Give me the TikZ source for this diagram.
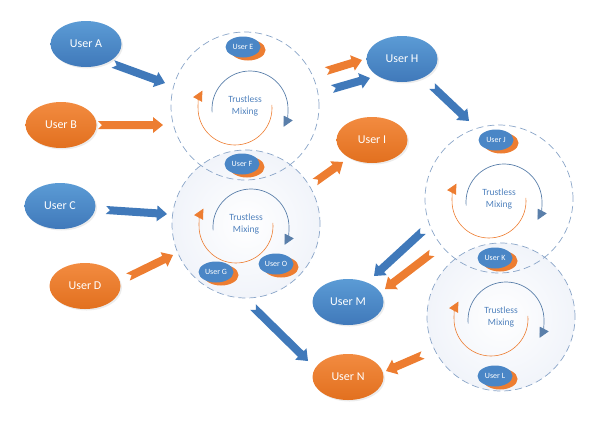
\documentclass[tikz,border=0pt]{standalone}
\usepackage{fontspec}
\setmainfont{Carlito}
\usetikzlibrary{calc,shapes.geometric,shadows,arrows.meta}
\definecolor{ublue}{HTML}{4A86C6}
\definecolor{ubluetop}{HTML}{5B9BD5}
\definecolor{ubluebot}{HTML}{4079BA}
\definecolor{uorange}{HTML}{ED7D31}
\definecolor{uorangetop}{HTML}{F28B40}
\definecolor{uorangebot}{HTML}{E2701F}
\definecolor{ringcol}{HTML}{8AA5C8}
\definecolor{mixtext}{HTML}{4F81BD}
\definecolor{arcblue}{HTML}{5A7FAA}
\definecolor{ringfill}{HTML}{F1F4FA}
\begin{document}
\begin{tikzpicture}[x=1pt,y=1pt,
 bigu/.style={ellipse, minimum width=71pt, minimum height=46pt, inner sep=0pt, text=white,
   font=\fontsize{12}{14}\selectfont,
   drop shadow={opacity=0.15, shadow xshift=1.5pt, shadow yshift=-1.5pt}},
 bigblue/.style={bigu, top color=ubluetop, bottom color=ubluebot},
 bigorange/.style={bigu, top color=uorangetop, bottom color=uorangebot},
 smallu/.style={ellipse, minimum width=35pt, minimum height=21pt, inner sep=0pt, fill=ublue,
   text=white, font=\fontsize{8}{9}\selectfont,
   copy shadow={fill=uorange, draw=none, shadow xshift=5pt, shadow yshift=-3pt}},
 ring/.style={circle, minimum size=148pt, inner sep=0pt, draw=ringcol, line width=0.7pt,
   dash pattern=on 7pt off 4pt},
 ringshade/.style={ring, inner color=white, outer color=ringfill},
 mixlabel/.style={align=center, text=mixtext, font=\fontsize{9.5}{12}\selectfont},
 bluearc/.style={draw=arcblue, line width=0.7pt, -{Triangle[width=10pt,length=10pt]}},
 orangearc/.style={draw=uorange, line width=0.6pt, -{Triangle[width=10pt,length=10pt]}},
 barrow/.style={to path={let \p1=(\tikztostart), \p2=(\tikztotarget),
   \n1={atan2(\y2-\y1,\x2-\x1)}, \n2={veclen(\x2-\x1,\y2-\y1)-10pt} in
   ($(\p1)+(\n1+90:4pt)$) -- ($(\p1)+(\n1:4pt)$) -- ($(\p1)+(\n1-90:4pt)$)
   -- ($(\p1)+(\n1:\n2)+(\n1-90:4pt)$) -- ($(\p1)+(\n1:\n2)+(\n1-90:8pt)$)
   -- (\p2) -- ($(\p1)+(\n1:\n2)+(\n1+90:8pt)$) -- ($(\p1)+(\n1:\n2)+(\n1+90:4pt)$) -- cycle}},
 bluearrow/.style={barrow, fill=ubluebot, draw=none},
 orangearrow/.style={barrow, fill=uorange, draw=none}
]
\useasboundingbox (0,0) rectangle (599,-424);

% mixing rings
\node[ringshade] (c2) at (246,-224) {};
\node[ring] (c1) at (245,-106) {};
\node[ringshade] (c4) at (501,-317) {};
\node[ring] (c3) at (499,-199) {};

\foreach \c in {c1,c2,c3,c4}{
  \draw[bluearc] ([shift={(5,-3)}]\c.center) ++(185:38) arc[start angle=185,end angle=-28,radius=38];
  \draw[orangearc] ([shift={(-10,-2)}]\c.center) ++(5:37) arc[start angle=5,end angle=-208,radius=37];
  \node[mixlabel] at (\c.center) {Trustless\\Mixing};
}

% small users
\node[smallu] (sE) at (243,-47) {User E};
\node[smallu] (sF) at (242,-164) {User F};
\node[smallu] (sG) at (216,-272) {User G};
\node[smallu] (sO) at (276,-264) {User O};
\node[smallu] (sJ) at (496,-140) {User J};
\node[smallu] (sK) at (495,-258) {User K};
\node[smallu] (sL) at (495,-376) {User L};

% big users
\node[bigblue] (uA) at (86,-44) {User A};
\node[bigorange] (uB) at (61,-125) {User B};
\node[bigblue] (uC) at (60,-206) {User C};
\node[bigorange] (uD) at (85,-286) {User D};
\node[bigblue] (uH) at (402,-59) {User H};
\node[bigorange] (uI) at (372,-140) {User I};
\node[bigblue] (uM) at (348,-302) {User M};
\node[bigorange] (uN) at (348,-377) {User N};

% arrow end points
\coordinate (a1s) at (113,-64);  \coordinate (a1e) at (165,-83);
\coordinate (a2s) at (98,-125);  \coordinate (a2e) at (163,-125);
\coordinate (a3s) at (106,-210); \coordinate (a3e) at (167,-214);
\coordinate (a4s) at (128,-277); \coordinate (a4e) at (173,-255);
\coordinate (a5s) at (326,-71);  \coordinate (a5e) at (362,-60);
\coordinate (a6s) at (332,-89);  \coordinate (a6e) at (370,-78);
\coordinate (a7s) at (432,-86);  \coordinate (a7e) at (469,-121);
\coordinate (a8s) at (315,-182); \coordinate (a8e) at (343,-162);
\coordinate (a9s) at (423,-231); \coordinate (a9e) at (374,-276);
\coordinate (a10s) at (432,-253); \coordinate (a10e) at (385,-289);
\coordinate (a11s) at (253,-307); \coordinate (a11e) at (308,-361);
\coordinate (a12s) at (423,-355); \coordinate (a12e) at (386,-371);

\path[bluearrow] (a1s) to (a1e);
\path[orangearrow] (a2s) to (a2e);
\path[bluearrow] (a3s) to (a3e);
\path[orangearrow] (a4s) to (a4e);
\path[orangearrow] (a5s) to (a5e);
\path[bluearrow] (a6s) to (a6e);
\path[bluearrow] (a7s) to (a7e);
\path[orangearrow] (a8s) to (a8e);
\path[bluearrow] (a9s) to (a9e);
\path[orangearrow] (a10s) to (a10e);
\path[bluearrow] (a11s) to (a11e);
\path[orangearrow] (a12s) to (a12e);
\end{tikzpicture}
\end{document}
